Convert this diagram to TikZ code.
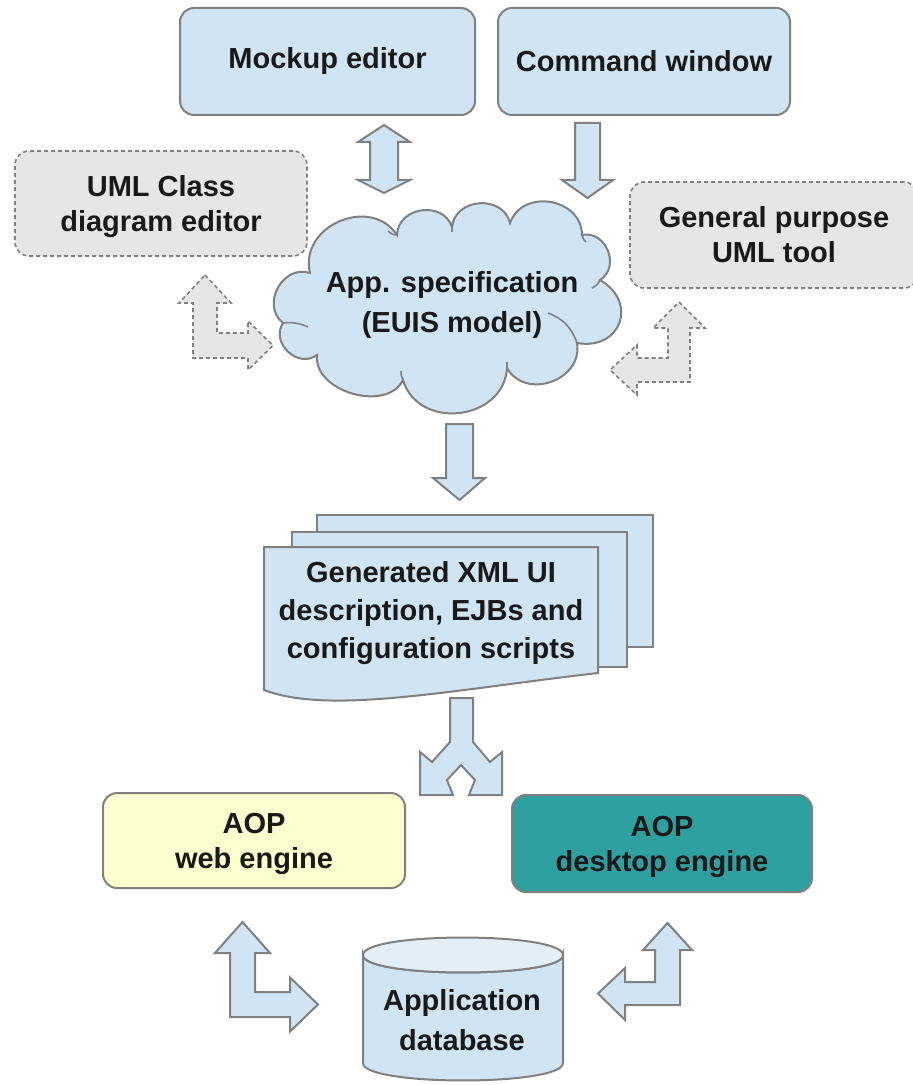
\documentclass[tikz,border=0pt]{standalone}
\usepackage{fontspec}
\setmainfont{Liberation Sans}
\definecolor{boxblue}{RGB}{208,228,243}
\definecolor{edgegray}{RGB}{128,128,128}
\definecolor{dashfill}{RGB}{230,230,230}
\definecolor{webyellow}{RGB}{255,255,208}
\definecolor{tealbox}{RGB}{46,160,160}
\definecolor{dbtop}{RGB}{226,239,249}
\begin{document}
\begin{tikzpicture}[x=0.5pt,y=-0.5pt,
 lbl/.style={font=\fontsize{14.5}{17.5}\selectfont\bfseries, align=center, text=black!90},
 bluebox/.style={lbl, draw=edgegray, line width=1pt, fill=boxblue, rounded corners=7pt},
 dashbox/.style={lbl, draw=edgegray, line width=0.8pt, fill=dashfill, rounded corners=7pt, dash pattern=on 2pt off 1.5pt},
 blockarrow/.style={draw=edgegray, line width=1pt, fill=boxblue, line join=miter},
 dasharrow/.style={draw=edgegray, line width=0.8pt, fill=dashfill, dash pattern=on 2pt off 1.5pt},
 docsheet/.style={draw=edgegray, line width=1pt, fill=boxblue},
 puff/.style={bend left=80, looseness=1.3},
 tail/.style={draw=edgegray, line width=0.8pt},
]
\useasboundingbox (0,0) rectangle (913,1085);

% top boxes
\node[bluebox, minimum width=147.5pt, minimum height=53.5pt] (mock) at (327.5,61.5) {Mockup editor};
\node[bluebox, minimum width=146pt, minimum height=53.5pt] (cmd) at (644,61.5) {Command window};
\node[dashbox, text depth=0pt, minimum width=146pt, minimum height=52.5pt] (umlc) at (161,203.5) {UML Class\\diagram editor};
\node[dashbox, minimum width=144pt, minimum height=53pt] (gp) at (774,235) {General purpose\\UML tool};

% cloud
\coordinate (c1) at (310,273);
\coordinate (c2) at (397,235);
\coordinate (c3) at (452,227);
\coordinate (c4) at (510,223);
\coordinate (c5) at (582,235);
\coordinate (c6) at (600,280);
\coordinate (c7) at (577,343);
\coordinate (c8) at (507,368);
\coordinate (c9) at (403,380);
\coordinate (c10) at (317,355);
\coordinate (c11) at (283,323);
\draw[draw=edgegray, fill=boxblue, line width=1pt]
  (c1) to[puff] (c2) to[puff] (c3) to[puff] (c4) to[puff] (c5) to[puff] (c6)
  to[puff, looseness=1.7] (c7) to[puff] (c8) to[puff] (c9) to[puff, looseness=1.05] (c10)
  to[puff] (c11) to[puff] (c1) -- cycle;
\draw[tail] (c2) to[bend left=20] ++(-9,-4);
\draw[tail] (c3) -- ++(0,5);
\draw[tail] (c5) to[bend right=20] ++(4,7);
\draw[tail] (c6) to[bend left=20] ++(-8,8);
\draw[tail] (548,313) to[bend left=25] (c7);
\draw[tail] (c8) -- ++(0,-6);
\draw[tail] (c9) to[bend left=15] ++(-2,-9);
\draw[tail] (c11) to[bend left=15] ++(25,4);
\node[lbl, font=\fontsize{14.5}{20}\selectfont\bfseries] (spec) at (452,305) {App. specification\\(EUIS model)};

% document stack
\draw[docsheet] (317,515) rectangle (653,647);
\draw[docsheet] (292,532) rectangle (627,667);
\draw[docsheet] (264,547) -- (598,547) -- (598,673) .. controls (450,690) and (330,715) .. (264,690) -- cycle;
\node[lbl, text depth=0pt, font=\fontsize{14.5}{19}\selectfont\bfseries] (doc) at (431,610) {Generated XML UI\\description, EJBs and\\configuration scripts};

% engines
\node[bluebox, text depth=0pt, fill=webyellow, minimum width=151pt, minimum height=47.5pt] (web) at (254,840.5) {AOP\\web engine};
\node[bluebox, text depth=0pt, fill=tealbox, minimum width=150pt, minimum height=48.5pt] (desk) at (662,843.5) {AOP\\desktop engine};

% database cylinder
\draw[blockarrow] (363,955) -- (363,1063) .. controls (363,1086.3) and (563,1086.3) .. (563,1063) -- (563,955) .. controls (563,978.3) and (363,978.3) .. (363,955) -- cycle;
\draw[blockarrow, fill=dbtop] (363,955) .. controls (363,931.7) and (563,931.7) .. (563,955) .. controls (563,978.3) and (363,978.3) .. (363,955) -- cycle;
\node[lbl, font=\fontsize{14.5}{20}\selectfont\bfseries] (db) at (462,1020) {Application\\database};

% block arrows
\draw[blockarrow] (384,125) -- (410,142) -- (398,142) -- (398,180) -- (410,180) -- (384,193) -- (358,180) -- (370,180) -- (370,142) -- (358,142) -- cycle;
\draw[blockarrow] (575,123) -- (600,123) -- (600,180) -- (613,180) -- (587.5,198) -- (562,180) -- (575,180) -- cycle;
\draw[blockarrow] (446,424) -- (473,424) -- (473,478) -- (485,478) -- (459.5,500) -- (433,478) -- (446,478) -- cycle;
\draw[dasharrow] (205,275) -- (231,303) -- (217,303) -- (217,333) -- (248,333) -- (248,321) -- (273,345.5) -- (248,370) -- (248,358) -- (193,358) -- (193,303) -- (179,303) -- cycle;
\draw[dasharrow] (679,302) -- (705,328) -- (690,328) -- (690,382) -- (637,382) -- (637,395) -- (610,370) -- (637,345) -- (637,358) -- (668,358) -- (668,328) -- (653,328) -- cycle;
\draw[blockarrow] (450,698) -- (450,742) -- (432,762) -- (420,752) -- (420,795) -- (453,795) -- (447,780) -- (461,765) -- (475,780) -- (469,795) -- (502,795) -- (502,752) -- (490,762) -- (473,742) -- (473,698) -- cycle;
\draw[blockarrow] (242.5,922) -- (270,953) -- (255,953) -- (255,992) -- (290,992) -- (290,977.5) -- (318,1004.5) -- (290,1031.5) -- (290,1017) -- (230,1017) -- (230,953) -- (215,953) -- cycle;
\draw[blockarrow] (667.5,923) -- (692,950) -- (680,950) -- (680,1005) -- (625,1005) -- (625,1020) -- (598,993.5) -- (625,968) -- (625,982) -- (655,982) -- (655,950) -- (643,950) -- cycle;
\end{tikzpicture}
\end{document}
